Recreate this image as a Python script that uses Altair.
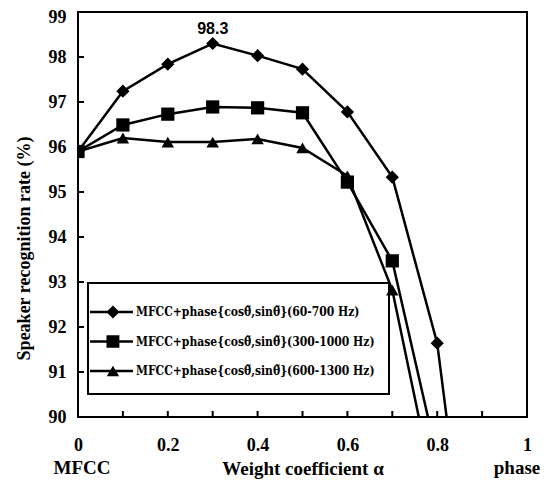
import altair as alt
import pandas as pd

# ---- data ----
T = "\u03b8\u0303"
series_names = [
    f"MFCC+phase{{cos{T},sin{T}}}(60-700 Hz)",
    f"MFCC+phase{{cos{T},sin{T}}}(300-1000 Hz)",
    f"MFCC+phase{{cos{T},sin{T}}}(600-1300 Hz)",
]
alpha_1 = [0.0, 0.1, 0.2, 0.3, 0.4, 0.5, 0.6, 0.7, 0.8, 0.9]
rate_1 = [95.9, 97.24, 97.84, 98.3, 98.03, 97.73, 96.78, 95.33, 91.64, 83.8]
alpha_2 = [0.0, 0.1, 0.2, 0.3, 0.4, 0.5, 0.6, 0.7, 0.8]
rate_2 = [95.9, 96.49, 96.73, 96.89, 96.87, 96.76, 95.22, 93.47, 89.1]
alpha_3 = [0.0, 0.1, 0.2, 0.3, 0.4, 0.5, 0.6, 0.7, 0.8]
rate_3 = [95.9, 96.2, 96.11, 96.11, 96.18, 95.98, 95.36, 92.82, 88.04]

x_label_values = [0, 0.2, 0.4, 0.6, 0.8, 1]
x_minor_ticks = [0.1, 0.2, 0.3, 0.4, 0.5, 0.6, 0.7, 0.8, 0.9]
y_label_values = [90, 91, 92, 93, 94, 95, 96, 97, 98, 99]
y_minor_ticks = [91, 92, 93, 94, 95, 96, 97, 98]
peak_label = {"alpha": [0.3], "rate": [98.3], "label": ["98.3"]}
end_labels = {"alpha": [0, 1], "label": ["MFCC", "phase"], "shift": [4, -10]}

rows = []
for name, xs, ys in zip(series_names, [alpha_1, alpha_2, alpha_3], [rate_1, rate_2, rate_3]):
    for a, r in zip(xs, ys):
        rows.append({"series": name, "alpha": a, "rate": r})
df = pd.DataFrame(rows)

SERIF = "Liberation Serif"
LEGEND_FONT = "DejaVu Serif Condensed, DejaVu Serif"
marker_shapes = ["diamond", "square", "triangle-up"]
marker_sizes = [175, 175, 155]
LINE = "M-1.93,-0.09H1.14V0.09H-1.93Z"
legend_paths = [
    LINE + "M-0.76,0L-0.29,-0.47L0.18,0L-0.29,0.47Z",
    LINE + "M-0.75,-0.45H0.17V0.45H-0.75Z",
    LINE + "M-0.29,-0.38L0.15,0.38L-0.73,0.38Z",
]

xscale = alt.Scale(domain=[0, 1], nice=False, zero=False)
yscale = alt.Scale(domain=[90, 99], nice=False, zero=False)

xaxis = alt.Axis(
    values=x_label_values, format="~g", ticks=False, domain=False, grid=False,
    labelFont=SERIF, labelFontSize=18, labelFontWeight="bold", labelColor="black",
    labelPadding=19, labelFlush=False,
    title="Weight coefficient \u03b1", titleFont=SERIF, titleFontSize=19,
    titleFontWeight="bold", titleColor="black", titleY=57, titleBaseline="alphabetic",
)
yaxis = alt.Axis(
    values=y_label_values, ticks=False, domain=False, grid=False,
    labelFont=SERIF, labelFontSize=18, labelFontWeight="bold", labelColor="black",
    labelPadding=12, labelFlush=False,
    labelOffset={"condition": {"test": "datum.value == 99", "value": 5}, "value": 0},
    title="Speaker recognition rate (%)", titleFont=SERIF, titleFontSize=18,
    titleFontWeight="bold", titleColor="black", titleX=-54, titleY=236,
    titleBaseline="middle",
)

base = alt.Chart(df)

lines = base.mark_line(color="black", strokeWidth=2.5, clip=True).encode(
    x=alt.X("alpha:Q", scale=xscale, axis=xaxis),
    y=alt.Y("rate:Q", scale=yscale, axis=yaxis),
    detail="series:N",
)

point_layers = []
for name, shp, sz in zip(series_names, marker_shapes, marker_sizes):
    point_layers.append(
        base.transform_filter(alt.datum.series == name)
        .mark_point(shape=shp, filled=True, color="black", opacity=1, size=sz, clip=True)
        .encode(x="alpha:Q", y="rate:Q")
    )

legend_layer = (
    base.transform_filter("false")
    .mark_point(filled=True, color="black", opacity=1)
    .encode(
        x="alpha:Q",
        y="rate:Q",
        shape=alt.Shape(
            "series:N",
            scale=alt.Scale(domain=series_names, range=legend_paths),
            legend=alt.Legend(
                title=None, orient="none", legendX=10, legendY=271,
                strokeColor="black", padding=14, rowPadding=4.5,
                symbolSize=784, symbolFillColor="black", symbolOpacity=1,
                labelOffset=4,
                labelFont=LEGEND_FONT, labelFontSize=12, labelFontWeight="bold",
                labelColor="black", labelLimit=400,
            ),
        ),
    )
)

xticks = alt.Chart(pd.DataFrame({"t": x_minor_ticks})).mark_tick(
    orient="vertical", size=6, thickness=2, yOffset=-3, color="black", opacity=1
).encode(x="t:Q", y=alt.datum(90))

yticks = alt.Chart(pd.DataFrame({"t": y_minor_ticks})).mark_tick(
    orient="horizontal", size=6, thickness=2, xOffset=3, color="black", opacity=1
).encode(y="t:Q", x=alt.datum(0))

peak = alt.Chart(pd.DataFrame(peak_label)).mark_text(
    dy=-15, font="Liberation Sans Narrow, Liberation Sans", fontWeight="bold",
    fontSize=16, color="black"
).encode(x="alpha:Q", y="rate:Q", text="label:N")

end_text_layers = []
for a, lab, sh in zip(end_labels["alpha"], end_labels["label"], end_labels["shift"]):
    end_text_layers.append(
        alt.Chart(pd.DataFrame({"alpha": [a], "label": [lab]})).mark_text(
            baseline="alphabetic", dy=57, dx=sh, font=SERIF, fontWeight="bold",
            fontSize=19, color="black"
        ).encode(x="alpha:Q", y=alt.datum(90), text="label:N")
    )

chart = (
    alt.layer(lines, *point_layers, legend_layer, xticks, yticks, peak, *end_text_layers)
    .properties(
        width=449, height=405,
        autosize=alt.AutoSizeParams(type="none"),
        padding={"left": 70, "top": 4, "right": 13, "bottom": 62},
    )
    .configure_view(stroke="black", strokeWidth=2)
    .configure_legend(strokeWidth=2)
)

chart.save("out.html", embed_options={"renderer": "svg", "actions": False})
